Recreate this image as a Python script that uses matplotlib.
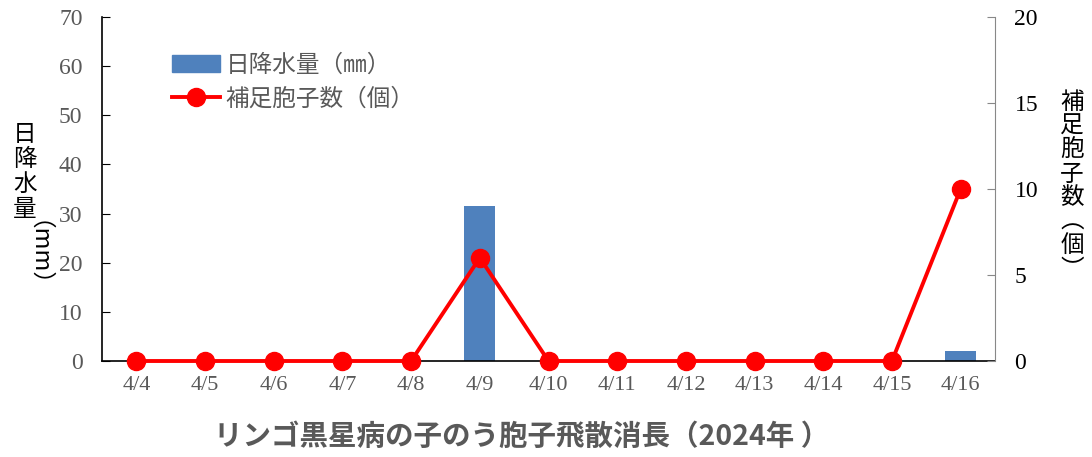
import matplotlib.pyplot as plt
from matplotlib.patches import Patch
from matplotlib.lines import Line2D

plt.rcParams['font.family'] = ['Noto Sans CJK JP', 'DejaVu Sans']

dates = ["4/4", "4/5", "4/6", "4/7", "4/8", "4/9", "4/10",
         "4/11", "4/12", "4/13", "4/14", "4/15", "4/16"]
rain_mm = [0, 0, 0, 0, 0, 31.5, 0, 0, 0, 0, 0, 0, 2.0]
spores = [0, 0, 0, 0, 0, 6, 0, 0, 0, 0, 0, 0, 10]

grey = "#595959"
blue = "#4F81BD"

fig = plt.figure(figsize=(10.92, 4.57), dpi=100)
ax = fig.add_axes([102 / 1092, 1 - 361 / 457, 893 / 1092, 344 / 457])
ax2 = ax.twinx()

x = list(range(len(dates)))
ax.bar(x, rain_mm, width=0.45, color=blue)
ax2.plot(x, spores, color="red", lw=2.8, marker="o", ms=13, clip_on=False)

ax.set_xlim(-0.5, len(dates) - 0.5)
ax.set_ylim(0, 70)
ax.set_yticks(range(0, 71, 10))
ax2.set_ylim(0, 20)
ax2.set_yticks(range(0, 21, 5))

serif = "Liberation Serif"
ax.set_xticks(x)
ax.set_xticklabels(dates, family=serif, fontsize=16, color=grey)
ax.tick_params(axis="x", length=0, pad=11)
ax.tick_params(axis="y", direction="in", length=6, pad=14, labelsize=17,
               labelcolor=grey)
for t in ax.get_yticklabels():
    t.set_family(serif)
ax2.tick_params(axis="y", direction="in", length=6, pad=14, labelsize=17,
                color="#888888", labelcolor="black")
for t in ax2.get_yticklabels():
    t.set_family(serif)

for a in (ax, ax2):
    a.spines["top"].set_visible(False)
ax.spines["right"].set_visible(False)
ax2.spines["left"].set_visible(False)
ax2.spines["bottom"].set_visible(False)
ax2.spines["right"].set_color("#888888")
ax.spines["left"].set_linewidth(1.2)
ax.spines["bottom"].set_linewidth(1.2)

# vertical axis titles
fig.text(25 / 1092, 1 - 172 / 457, "日\n降\n水\n量", ha="center", va="center",
         fontsize=17, linespacing=1.12)
fig.text(25 / 1092, 1 - 266 / 457, "（mm）", ha="center", va="center",
         fontsize=17, rotation=-90)
fig.text(1072 / 1092, 1 - 186 / 457, "補\n足\n胞\n子\n数\n︵\n個\n︶", ha="center",
         va="center", fontsize=17, linespacing=1.05)

handles = [Patch(color=blue), Line2D([], [], color="red", lw=2.8, marker="o", ms=13)]
leg = ax.legend(handles, ["日降水量（㎜）", "補足胞子数（個）"], loc="upper left",
                bbox_to_anchor=(0.055, 0.955), frameon=False, fontsize=17,
                labelcolor=grey, handlelength=2.0, handletextpad=0.25,
                labelspacing=0.45)

fig.text(522 / 1092, 1 - 437 / 457, "リンゴ黒星病の子のう胞子飛散消長（2024年 ）",
         ha="center", va="center", fontsize=20.5, fontweight="semibold", color=grey)

fig.savefig("out.png", dpi=100)
